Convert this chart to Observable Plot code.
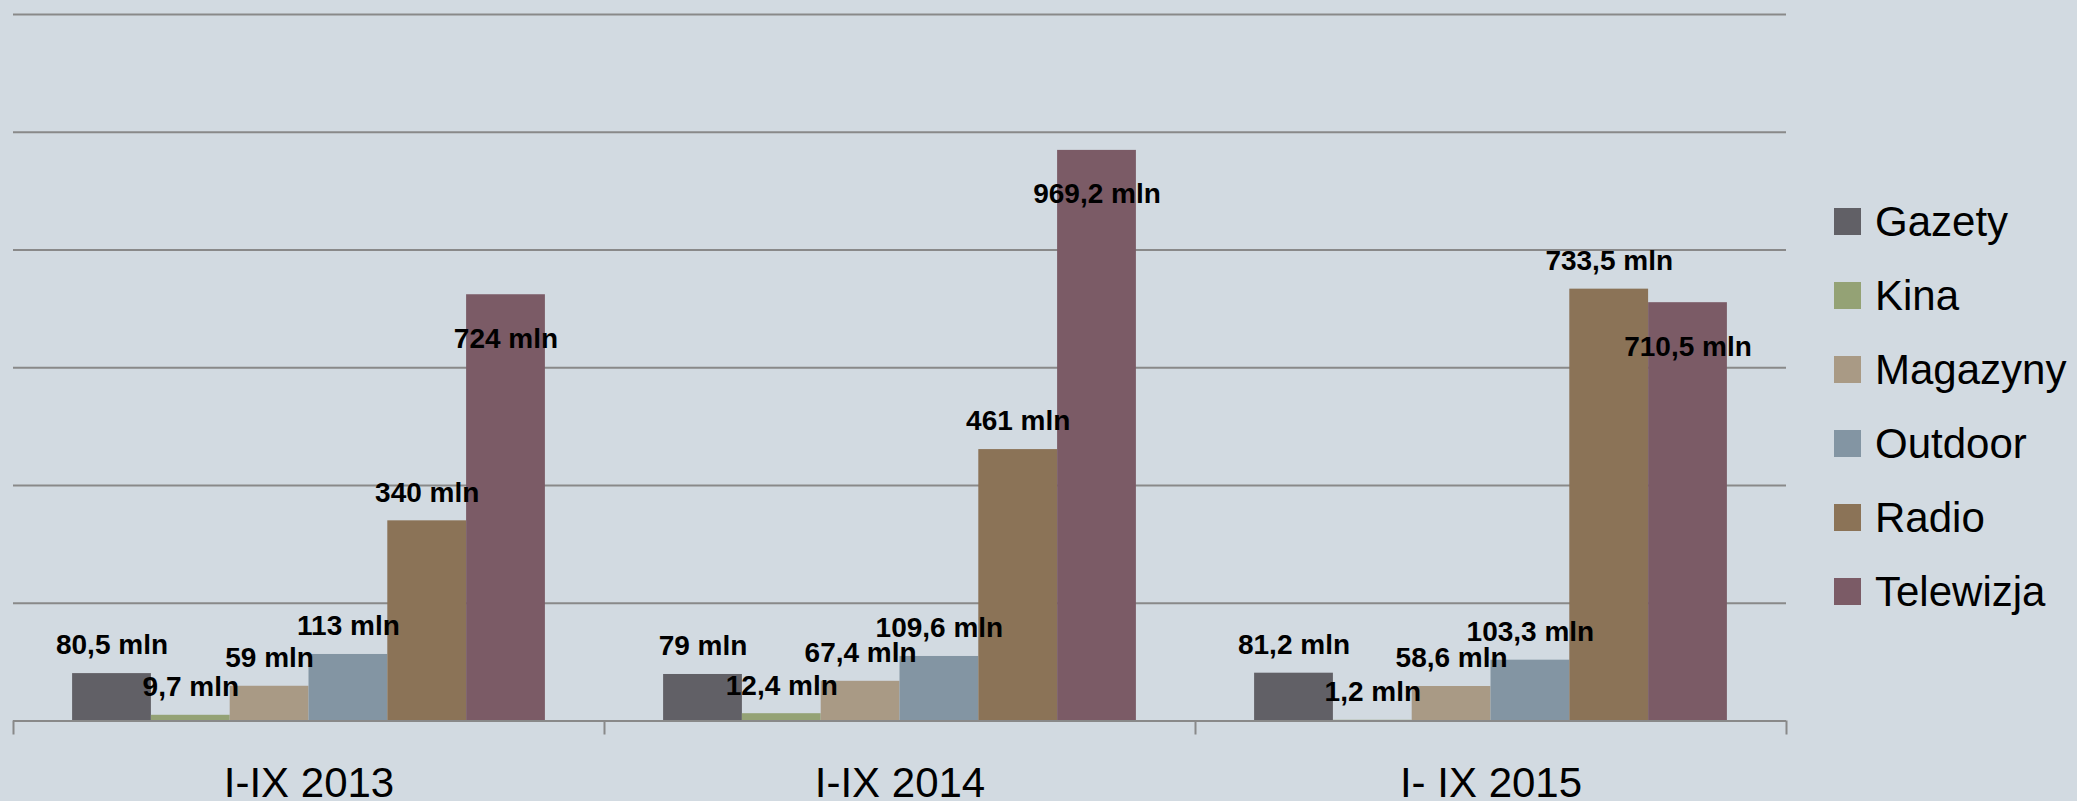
<!DOCTYPE html>
<html>
<head>
<meta charset="utf-8">
<script src="https://cdn.jsdelivr.net/npm/d3@7"></script>
<script src="https://cdn.jsdelivr.net/npm/@observablehq/plot@0.6"></script>
<style>
  html, body { margin: 0; padding: 0; background: #d2dae1; overflow: hidden; }
  #wrap { position: relative; width: 2077px; height: 801px; }
  #legend { position: absolute; left: 1834px; top: 184.5px; font-family: "Liberation Sans", Arial, sans-serif; font-size: 42px; color: #000; }
  .row { display: flex; align-items: center; height: 74px; }
  .sw { width: 27px; height: 27px; margin-right: 14px; flex: none; }
</style>
</head>
<body>
<div id="wrap"><div id="chart"></div><div id="legend"></div></div>
<script>
const periods = ["I-IX 2013", "I-IX 2014", "I- IX 2015"];
const series = ["Gazety", "Kina", "Magazyny", "Outdoor", "Radio", "Telewizja"];
const values2013 = [80.5, 9.7, 59, 113, 340, 724];
const values2014 = [79, 12.4, 67.4, 109.6, 461, 969.2];
const values2015 = [81.2, 1.2, 58.6, 103.3, 733.5, 710.5];
const seriesColors = ["#616066", "#94a275", "#a99a85", "#8395a3", "#8b7357", "#7b5b66"];
const gridTicks = [0, 200, 400, 600, 800, 1000, 1200];

const valuesByPeriod = [values2013, values2014, values2015];
const fmt = v => String(v).replace(".", ",") + " mln";
const rows = periods.flatMap((p, pi) => valuesByPeriod[pi].map((v, si) => ({
  period: p, pi, series: series[si], si, value: v, label: fmt(v)
})));

const gap = 1.5;                       // gap width 150% of a bar
const slot = series.length + gap;      // width of one category group
const barStart = d => d.pi * slot + gap / 2 + d.si;
const barMid = d => barStart(d) + 0.5;
const grid = "#898989";
const labelFont = {fontFamily: "Liberation Sans, Arial, sans-serif", fontSize: 28, fontWeight: "bold", fill: "#000", textAnchor: "middle", lineAnchor: "top"};

const chart = Plot.plot({
  width: 2077,
  height: 801,
  marginLeft: 13,
  marginRight: 291,
  marginTop: 14,
  marginBottom: 80.5,
  style: {background: "#d2dae1", color: "#000", fontFamily: "Liberation Sans, Arial, sans-serif"},
  x: {domain: [0, periods.length * slot], axis: null},
  y: {domain: [0, 1200], axis: null},
  color: {domain: series, range: seriesColors},
  marks: [
    Plot.ruleY(gridTicks.slice(1), {stroke: grid, strokeWidth: 2}),
    Plot.rect(rows, {x1: barStart, x2: d => barStart(d) + 1, y1: 0, y2: "value", fill: "series"}),
    Plot.ruleY([0], {stroke: grid, strokeWidth: 2}),
    Plot.ruleX(d3.range(periods.length + 1).map(i => i * slot), {y1: 0, y2: 0, insetBottom: -14, stroke: grid, strokeWidth: 2}),
    Plot.text(rows.filter(d => d.series !== "Telewizja"), {x: barMid, y: "value", text: "label", dy: -39, ...labelFont}),
    Plot.text(rows.filter(d => d.series === "Telewizja"), {x: barMid, y: "value", text: "label", dy: 33, ...labelFont}),
    Plot.text(periods, {x: (d, i) => i * slot + slot / 2, y: 0, text: d => d, dy: 46.5, lineAnchor: "top", fontSize: 42, fill: "#000", fontFamily: "Liberation Sans, Arial, sans-serif"})
  ]
});
document.getElementById("chart").appendChild(chart);

const legend = document.getElementById("legend");
series.forEach((s, i) => {
  const row = document.createElement("div");
  row.className = "row";
  const sw = document.createElement("div");
  sw.className = "sw";
  sw.style.background = seriesColors[i];
  const t = document.createElement("span");
  t.textContent = s;
  row.appendChild(sw);
  row.appendChild(t);
  legend.appendChild(row);
});
</script>
</body>
</html>
